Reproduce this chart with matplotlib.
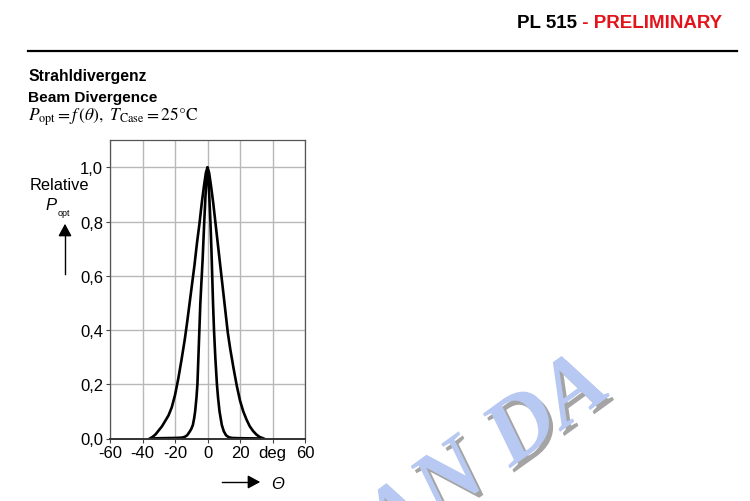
import matplotlib
matplotlib.use("Agg")
import matplotlib.pyplot as plt
import matplotlib.patheffects as pe
from matplotlib import font_manager

plt.rcParams["font.family"] = ["Liberation Sans", "DejaVu Sans"]
plt.rcParams["mathtext.fontset"] = "stix"

wide_deg = [-35.5, -34, -32, -30, -28, -26, -24, -22, -20, -18, -16, -14, -12.5, -11,
            -9.5, -8, -6.5, -5, -3.5, -2.2, -1, 0,
            1, 2.2, 3.5, 5, 6.5, 8, 9.5, 11, 12.5, 14, 16, 18, 20, 22, 24, 26, 28, 30,
            32, 34.5]
wide_val = [0.0, 0.005, 0.015, 0.03, 0.045, 0.065, 0.085, 0.115, 0.16, 0.22, 0.29, 0.365,
            0.43, 0.50, 0.57, 0.64, 0.72, 0.79, 0.87, 0.93, 0.98, 1.0,
            0.98, 0.93, 0.87, 0.79, 0.71, 0.63, 0.55, 0.47, 0.39, 0.33, 0.26, 0.195, 0.14,
            0.10, 0.07, 0.045, 0.028, 0.015, 0.006, 0.0]

narrow_deg = [-34, -30, -20, -16, -14, -12.5, -11, -10, -9, -8.2, -7.6, -6.8, -6.2, -5.6,
              -5, -4.4, -3.8, -3.0, -2.0, -1.2, -0.5, 0,
              0.5, 1.2, 1.8, 2.4, 2.9, 3.4, 4.0, 4.8, 5.8, 6.5, 7.4, 8.8, 10, 11.4, 13,
              15, 20, 33]
narrow_val = [0.0, 0.001, 0.002, 0.003, 0.006, 0.012, 0.025, 0.035, 0.05, 0.075, 0.10, 0.15,
              0.20, 0.30, 0.40, 0.50, 0.57, 0.66, 0.80, 0.90, 0.97, 1.0,
              0.97, 0.88, 0.80, 0.70, 0.60, 0.50, 0.40, 0.30, 0.20, 0.15, 0.10, 0.05, 0.027,
              0.012, 0.005, 0.002, 0.001, 0.0]

x_ticks = [-60, -40, -20, 0, 20, 40, 60]
x_labels = ["-60", "-40", "-20", "0", "20", "deg", "60"]
y_ticks = [0.0, 0.2, 0.4, 0.6, 0.8, 1.0]
y_labels = ["0,0", "0,2", "0,4", "0,6", "0,8", "1,0"]

W, H = 750, 502
fig = plt.figure(figsize=(W / 100, H / 100), dpi=100)


def fx(px):
    return px / W


def fy(py):
    return 1 - py / H


# schmale Schrift fuer den Kopf, falls vorhanden
try:
    font_manager.findfont("Liberation Sans Narrow", fallback_to_default=False)
    head_font, head_size = "Liberation Sans Narrow", 16
except Exception:
    head_font, head_size = "Liberation Sans", 13.5

# Kopfzeile
t1 = fig.text(fx(722), fy(23), " - PRELIMINARY", ha="right", va="center",
              fontsize=head_size, fontweight="bold", color="#e3121b", family=head_font)
fig.canvas.draw()
bb = t1.get_window_extent()
fig.text(bb.x0 / W, fy(23), "PL 515", ha="right", va="center",
         fontsize=head_size, fontweight="bold", color="black", family=head_font)
fig.add_artist(plt.Line2D([fx(28), fx(737)], [fy(52), fy(52)], color="black", lw=1.6))

fig.text(fx(28), fy(77), "Strahldivergenz", ha="left", va="center",
         fontsize=11.3, fontweight="bold")
fig.text(fx(28), fy(98), "Beam Divergence", ha="left", va="center",
         fontsize=11.1, fontweight="bold")
fig.text(fx(28), fy(117), r"$P_{\mathrm{opt}} = f\,(\theta),\ T_{\mathrm{Case}} = 25°\mathrm{C}$",
         ha="left", va="center", fontsize=12.5)

# Diagramm
ax = fig.add_axes([fx(110), fy(439.5), fx(305) - fx(110), (439.5 - 141.3) / H])
ax.plot(wide_deg, wide_val, color="black", lw=1.9, solid_joinstyle="round")
ax.plot(narrow_deg, narrow_val, color="black", lw=1.9, solid_joinstyle="round")
ax.set_xlim(-60, 60)
ax.set_ylim(0, 1.1)
ax.set_xticks(x_ticks)
ax.set_xticklabels(x_labels)
ax.set_yticks(y_ticks)
ax.set_yticklabels(y_labels)
ax.tick_params(labelsize=12, length=3, width=0.8, pad=2, color="#444444")
ax.grid(True, color="#b8b8b8", lw=1)
ax.set_axisbelow(True)
for s in ax.spines.values():
    s.set_color("#555555")
    s.set_linewidth(0.9)
ax.spines["bottom"].set_color("#333333")
ax.spines["bottom"].set_linewidth(1.4)

# Achsenbeschriftungen
fig.text(fx(59), fy(185), "Relative", ha="center", va="center", fontsize=11.8)
fig.text(fx(51), fy(206), "P", ha="center", va="center", fontsize=12, style="italic")
fig.text(fx(64), fy(213), "opt", ha="center", va="center", fontsize=6.5)
fig.add_artist(plt.Line2D([fx(65), fx(65)], [fy(275), fy(230)], color="black", lw=1))
fig.add_artist(matplotlib.patches.FancyArrowPatch(
    (fx(65), fy(233)), (fx(65), fy(222)), transform=fig.transFigure,
    arrowstyle="-|>,head_length=5,head_width=2.7", color="black", lw=1, mutation_scale=1.5))
fig.add_artist(plt.Line2D([fx(222), fx(255)], [fy(483), fy(483)], color="black", lw=1))
fig.add_artist(matplotlib.patches.FancyArrowPatch(
    (fx(252), fy(483)), (fx(263), fy(483)), transform=fig.transFigure,
    arrowstyle="-|>,head_length=5,head_width=2.7", color="black", lw=1, mutation_scale=1.5))
fig.text(fx(278), fy(485), "Θ", ha="center", va="center", fontsize=12, style="italic")

# Wasserzeichen
fig.text(fx(488), fy(458), "AN DA", ha="center", va="center", fontsize=66,
         family="Liberation Serif", fontweight="bold", style="italic",
         rotation=36, color="#b7c8f2",
         path_effects=[pe.SimplePatchShadow(offset=(3, -3), shadow_rgbFace="#9a9a9a", alpha=0.9),
                       pe.Normal()])

fig.savefig("out.png", dpi=100)
